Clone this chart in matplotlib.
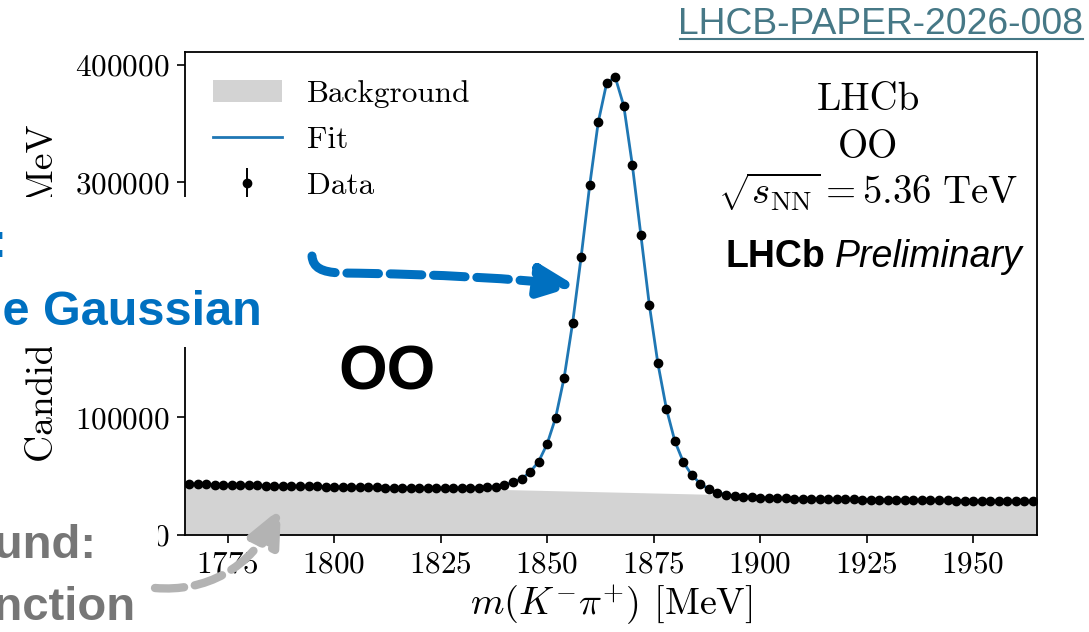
import numpy as np
import matplotlib
matplotlib.use("Agg")
import matplotlib.pyplot as plt
from matplotlib.patches import Rectangle, FancyArrowPatch
from matplotlib.path import Path
from matplotlib.lines import Line2D

# D0 -> K- pi+ candidates in OO collisions, 2 MeV bins (centres)
mass = np.arange(1766, 1966, 2)
counts = [
    43400, 43200, 43100, 42900, 42800, 42600, 42500, 42300, 42200, 42000,
    41900, 41800, 41600, 41500, 41400, 41300, 41200, 41000, 40900, 40800,
    40700, 40600, 40500, 40400, 40300, 40200, 40200, 40100, 40000, 40000,
    39900, 40000, 40100, 40200, 40400, 40700,
    41100, 42600, 44900, 47700, 53600, 62400, 77400, 99800, 133900, 180700,
    236900, 297600, 351200, 384900, 389500, 365100, 315100, 255600, 195700, 146100,
    107500, 79700, 61900, 50800, 43700, 38900, 36000, 34300, 33400, 32600,
    32100, 31800, 31500, 31300, 31100, 31000, 30900, 30800, 30700, 30600,
    30500, 30400, 30300, 30200, 30100, 30000, 29900, 29900, 29800, 29700,
    29600, 29500, 29500, 29400, 29300, 29200, 29100, 29100, 29000, 28900,
    28800, 28800, 28700, 28700,
]
bkg_mass = [1765, 1840, 1890, 1965]
bkg_level = [41500, 38700, 34500, 27500]

xticks = [1775, 1800, 1825, 1850, 1875, 1900, 1925, 1950]
yticks = [0, 100000, 200000, 300000, 400000]

W, H = 1089, 632


def fx(x):
    return x / W


def fy(y):
    return 1 - y / H


plt.rcParams['font.family'] = 'serif'
plt.rcParams['font.serif'] = ['cmr10']
plt.rcParams['mathtext.fontset'] = 'cm'
plt.rcParams['axes.formatter.use_mathtext'] = True
plt.rcParams['axes.unicode_minus'] = False

fig = plt.figure(figsize=(W / 100, H / 100), dpi=100)
ax = fig.add_axes([fx(185), fy(535), (1037 - 185) / W, (535 - 52) / H])

bkg = ax.fill_between(bkg_mass, bkg_level, color='#d3d3d3', lw=0, zorder=1)
fit, = ax.plot(mass, counts, color='#1f77b4', lw=2.0, zorder=2)
data = ax.errorbar(mass, counts, yerr=np.sqrt(counts), fmt='o', color='k',
                   ms=6, lw=1.4, zorder=3)

ax.set_xlim(1765, 1965)
ax.set_ylim(0, 411000)
ax.set_xticks(xticks)
ax.set_yticks(yticks)
ax.ticklabel_format(axis='y', style='plain')
ax.tick_params(labelsize=22.5, length=6, width=1.2, pad=5)
for s in ax.spines.values():
    s.set_linewidth(1.3)

ax.set_xlabel(r'$m(K^{-}\pi^{+})$ [MeV]', fontsize=27.5)
ax.xaxis.set_label_coords(0.5, (535 - 582) / 483)
ax.set_ylabel('Candidates / 2 MeV', fontsize=27)
ax.yaxis.set_label_coords((62 - 185) / 852, 0.5)

ax.legend([bkg, fit, data], ['Background', 'Fit', 'Data'], loc='upper left',
          frameon=False, fontsize=22.5, handlelength=2.2, handletextpad=0.8,
          labelspacing=0.58, borderaxespad=0.5, borderpad=0.4)

# experiment label block
fig.text(fx(868), fy(110), 'LHCb', ha='center', va='baseline', fontsize=28)
fig.text(fx(868), fy(158), 'OO', ha='center', va='baseline', fontsize=28)
fig.text(fx(868), fy(204), r'$\sqrt{s_{\mathrm{NN}}} = 5.36\ \mathrm{TeV}$',
         ha='center', va='baseline', fontsize=28)
fig.text(fx(725), fy(267), 'LHCb', ha='left', va='baseline', fontsize=27,
         family='Liberation Sans', weight='bold')
fig.text(fx(835), fy(267), 'Preliminary', ha='left', va='baseline', fontsize=27,
         family='Liberation Sans', style='italic')

# slide overlay
sans = dict(family='Liberation Sans', weight='bold', va='baseline', zorder=11)
fig.add_artist(Rectangle((0, fy(347)), 265 / W, 150 / H, transform=fig.transFigure,
                         facecolor='white', edgecolor='none', zorder=10))
fig.add_artist(Rectangle((0, 0), 158 / W, (H - 492) / H, transform=fig.transFigure,
                         facecolor='white', edgecolor='none', zorder=10))

fig.text(fx(8), fy(257), 'Signal:', ha='right', fontsize=35, color='#0070C0', **sans)
fig.text(fx(262), fy(325), 'Double Gaussian', ha='right', fontsize=35,
         color='#0070C0', **sans)
fig.text(fx(97), fy(558), 'Background:', ha='right', fontsize=34, color='#767676', **sans)
fig.text(fx(135), fy(620), 'Linear function', ha='right', fontsize=34,
         color='#767676', **sans)
fig.text(fx(387), fy(390), 'OO', ha='center', fontsize=45, color='black', **sans)

fig.text(fx(1083), fy(34), 'LHCB-PAPER-2026-008', ha='right', va='baseline',
         fontsize=26.8, family='Liberation Sans', color='#467886')
fig.add_artist(Line2D([fx(680), fx(1083)], [fy(38.5), fy(38.5)], color='#467886',
                      lw=1.5, transform=fig.transFigure))

C4 = Path.CURVE4
blue_path = Path([(fx(x), fy(y)) for x, y in
                  [(312, 256), (313, 268), (322, 272), (340, 273),
                   (440, 274), (520, 279), (576, 286)]],
                 [Path.MOVETO, C4, C4, C4, C4, C4, C4])
fig.add_artist(FancyArrowPatch(path=blue_path, transform=fig.transFigure,
                               arrowstyle='-|>,head_length=1.0,head_width=0.45',
                               mutation_scale=21.6, lw=6.5, ls=(0, (3.5, 1.3)),
                               color='#0070C0', zorder=12))
gray_path = Path([(fx(x), fy(y)) for x, y in
                  [(155, 588), (205, 592), (250, 570), (281, 508)]],
                 [Path.MOVETO, C4, C4, C4])
fig.add_artist(FancyArrowPatch(path=gray_path, transform=fig.transFigure,
                               arrowstyle='-|>,head_length=1.0,head_width=0.45',
                               mutation_scale=21.6, lw=6, ls=(0, (3.5, 1.3)),
                               color='#B3B3B3', zorder=12))

fig.savefig('out.png', dpi=100)
